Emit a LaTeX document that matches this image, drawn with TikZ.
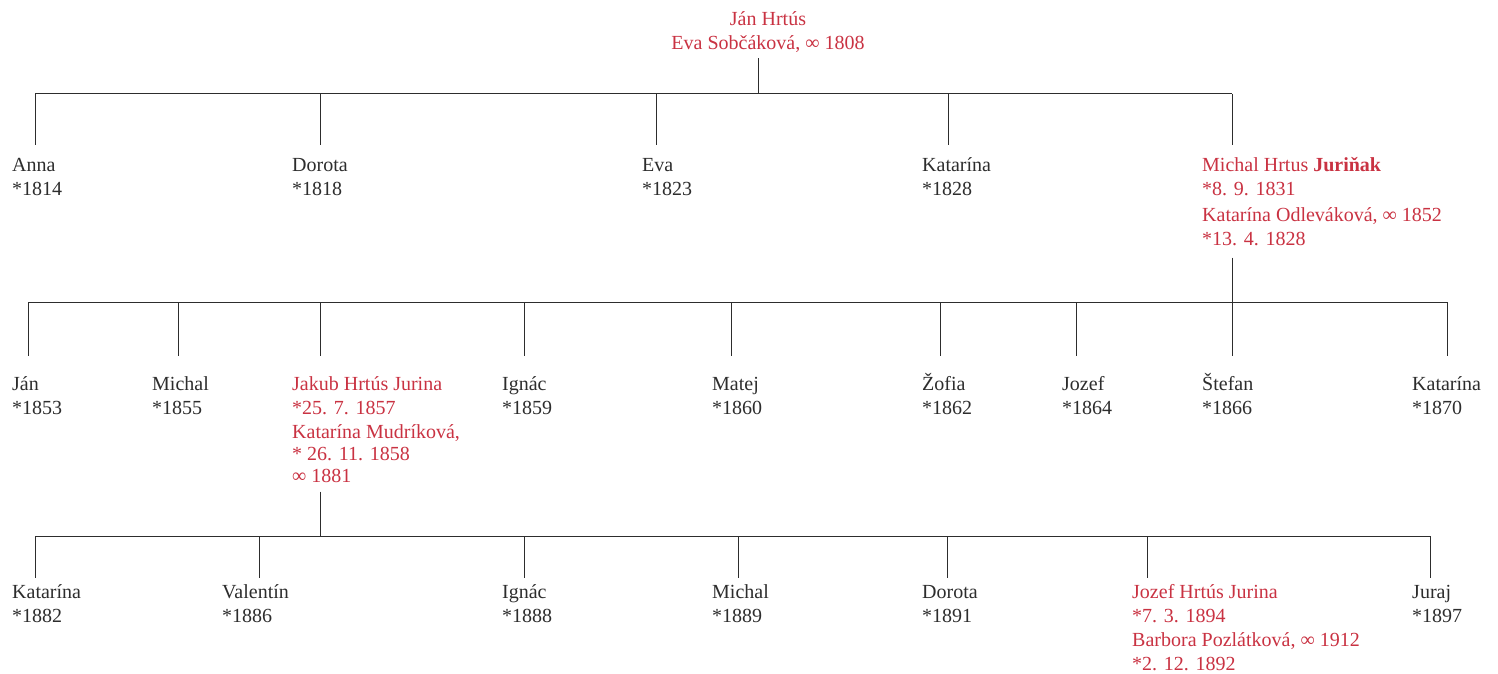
\documentclass[tikz,border=0pt]{standalone}
\usepackage{fontspec}
\setmainfont{Liberation Serif}
\usetikzlibrary{positioning}
\definecolor{famred}{RGB}{201,50,66}
\definecolor{famgray}{RGB}{45,45,45}
% fixed height of the first line, so accents do not move a node
\newcommand{\fl}{\rule{0pt}{22pt}}
\tikzset{
  person/.style={anchor=north west, align=left, inner sep=0pt, text=famgray,
    font=\fontsize{20}{24}\selectfont},
  heir/.style={person, text=famred},
  tie/.style={draw=famgray, line width=1pt},
}

\begin{document}
\begin{tikzpicture}[x=1pt,y=-1pt]
\useasboundingbox (0,0) rectangle (1498,674);

% parents
\node[heir, anchor=north, align=center] (jan) at (768,3) {\fl Ján Hrtús\\Eva Sobčáková, ∞ 1808};

% first generation
\node[person] (anna) at (12,149) {\fl Anna\\*1814};
\node[person] (dorota) at (292,149) {\fl Dorota\\*1818};
\node[person] (eva) at (642,149) {\fl Eva\\*1823};
\node[person] (katarina) at (922,149) {\fl Katarína\\*1828};
\node[heir] (michal) at (1202,149) {\fl Michal Hrtus \textbf{Juriňak}\\*8. 9. 1831\\[2pt]Katarína Odleváková, ∞ 1852\\*13. 4. 1828};

\coordinate (g1) at (758,94);
\coordinate (a1) at (35,94);
\coordinate (a2) at (320,94);
\coordinate (a3) at (656,94);
\coordinate (a4) at (948,94);
\coordinate (a5) at (1232,94);
\draw[tie, shorten <=6pt] (jan.south -| g1) -- (g1);
\draw[tie] (a1) -- (a5);
\draw[tie, shorten >=4pt] (a1) -- (anna.north -| a1);
\draw[tie, shorten >=4pt] (a2) -- (dorota.north -| a2);
\draw[tie, shorten >=4pt] (a3) -- (eva.north -| a3);
\draw[tie, shorten >=4pt] (a4) -- (katarina.north -| a4);
\draw[tie, shorten >=4pt] (a5) -- (michal.north -| a5);

% second generation
\node[person] (jan2) at (12,368) {\fl Ján\\*1853};
\node[person] (michal2) at (152,368) {\fl Michal\\*1855};
\node[heir] (jakub) at (292,368) {\fl Jakub Hrtús Jurina\\*25. 7. 1857\\Katarína Mudríková,\\[-2pt]* 26. 11. 1858\\[-2pt]∞ 1881};
\node[person] (ignac2) at (502,368) {\fl Ignác\\*1859};
\node[person] (matej) at (712,368) {\fl Matej\\*1860};
\node[person] (zofia) at (922,368) {\fl Žofia\\*1862};
\node[person] (jozef2) at (1062,368) {\fl Jozef\\*1864};
\node[person] (stefan) at (1202,368) {\fl Štefan\\*1866};
\node[person] (katarina2) at (1412,368) {\fl Katarína\\*1870};

\coordinate (g2) at (1232,302);
\coordinate (b1) at (28,302);
\coordinate (b2) at (178,302);
\coordinate (b3) at (320,302);
\coordinate (b4) at (524,302);
\coordinate (b5) at (731,302);
\coordinate (b6) at (940,302);
\coordinate (b7) at (1076,302);
\coordinate (b8) at (1232,302);
\coordinate (b9) at (1447,302);
\draw[tie, shorten <=12pt] (michal.south -| g2) -- (g2);
\draw[tie] (b1) -- (b9);
\draw[tie, shorten >=12pt] (b1) -- (jan2.north -| b1);
\draw[tie, shorten >=12pt] (b2) -- (michal2.north -| b2);
\draw[tie, shorten >=12pt] (b3) -- (jakub.north -| b3);
\draw[tie, shorten >=12pt] (b4) -- (ignac2.north -| b4);
\draw[tie, shorten >=12pt] (b5) -- (matej.north -| b5);
\draw[tie, shorten >=12pt] (b6) -- (zofia.north -| b6);
\draw[tie, shorten >=12pt] (b7) -- (jozef2.north -| b7);
\draw[tie, shorten >=12pt] (b8) -- (stefan.north -| b8);
\draw[tie, shorten >=12pt] (b9) -- (katarina2.north -| b9);

% third generation
\node[person] (katarina3) at (12,576) {\fl Katarína\\*1882};
\node[person] (valentin) at (222,576) {\fl Valentín\\*1886};
\node[person] (ignac3) at (502,576) {\fl Ignác\\*1888};
\node[person] (michal3) at (712,576) {\fl Michal\\*1889};
\node[person] (dorota3) at (922,576) {\fl Dorota\\*1891};
\node[heir] (jozef3) at (1132,576) {\fl Jozef Hrtús Jurina\\*7. 3. 1894\\Barbora Pozlátková, ∞ 1912\\*2. 12. 1892};
\node[person] (juraj) at (1412,576) {\fl Juraj\\*1897};

\coordinate (g3) at (320,536);
\coordinate (c1) at (35,536);
\coordinate (c2) at (259,536);
\coordinate (c3) at (524,536);
\coordinate (c4) at (738,536);
\coordinate (c5) at (947,536);
\coordinate (c6) at (1147,536);
\coordinate (c7) at (1430,536);
\draw[tie, shorten <=9pt] (jakub.south -| g3) -- (g3);
\draw[tie] (c1) -- (c7);
\draw[tie, shorten >=-2pt] (c1) -- (katarina3.north -| c1);
\draw[tie, shorten >=-2pt] (c2) -- (valentin.north -| c2);
\draw[tie, shorten >=-2pt] (c3) -- (ignac3.north -| c3);
\draw[tie, shorten >=-2pt] (c4) -- (michal3.north -| c4);
\draw[tie, shorten >=-2pt] (c5) -- (dorota3.north -| c5);
\draw[tie, shorten >=-2pt] (c6) -- (jozef3.north -| c6);
\draw[tie, shorten >=-2pt] (c7) -- (juraj.north -| c7);

\end{tikzpicture}
\end{document}
